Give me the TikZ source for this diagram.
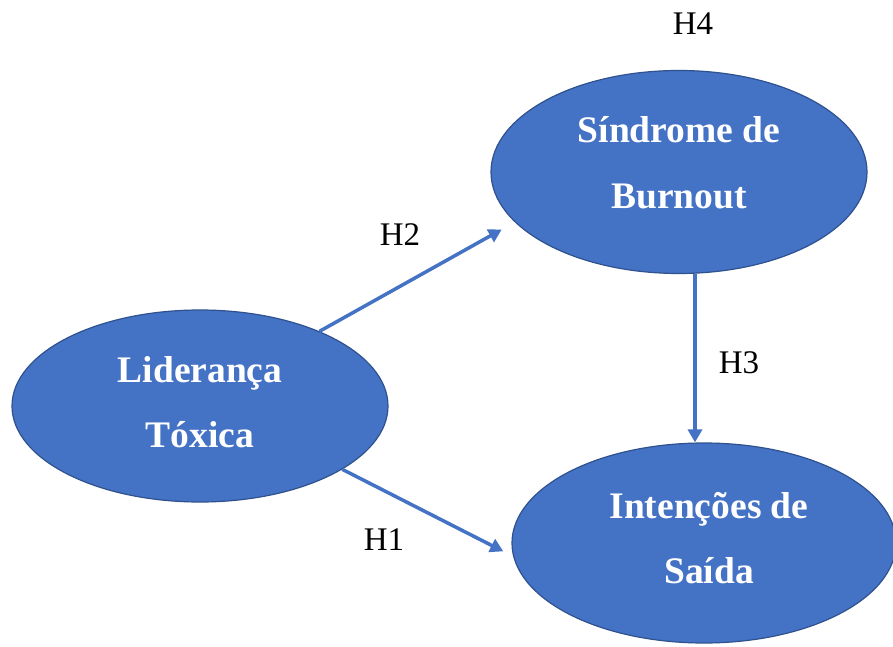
\documentclass[tikz,border=0pt]{standalone}
\usepackage{fontspec}
\setmainfont{Liberation Serif}
\usetikzlibrary{arrows.meta,shapes.geometric}
\definecolor{blobfill}{HTML}{4472C4}
\definecolor{blobedge}{HTML}{2F528F}
\begin{document}
\begin{tikzpicture}[x=1bp,y=-1bp,
  blob/.style={ellipse,fill=blobfill,draw=blobedge,line width=1.2bp,inner sep=0pt},
  blobtext/.style={text=white,align=center,inner sep=0pt,
    font=\bfseries\fontsize{37.5bp}{65bp}\selectfont},
  hyp/.style={inner sep=0pt,font=\fontsize{33bp}{36bp}\selectfont},
  arr/.style={draw=blobfill,line width=3.5bp,-{Triangle[length=13bp,width=14bp]}}]
  \fill[white] (0,0) rectangle (893,647);
  \useasboundingbox (0,0) rectangle (893,647);

  % the three constructs
  \node[blob,minimum width=376bp,minimum height=203bp] (bur) at (679,172) {};
  \node[blob,minimum width=376bp,minimum height=192bp] (lid) at (200,406) {};
  \node[blob,minimum width=384bp,minimum height=200bp] (int) at (704,543) {};

  % fixed line heights keep the two lines evenly placed
  \node[blobtext] (burtxt) at (679,162.5)
    {\rule{0pt}{34bp}Síndrome de\\Burnout\rule[-8bp]{0pt}{8bp}};
  \node[blobtext] (lidtxt) at (200,401.5)
    {\rule{0pt}{34bp}Liderança\\Tóxica\rule[-8bp]{0pt}{8bp}};
  \node[blobtext] (inttxt) at (709,537.5)
    {\rule{0pt}{34bp}Intenções de\\Saída\rule[-8bp]{0pt}{8bp}};

  % hypothesised paths
  \draw[arr,shorten >=15bp] (lid.32) -- (bur.197);
  \draw[arr,shorten >=11bp] (lid.-24) -- (int.184);
  \coordinate (h3top) at ([xshift=16bp]bur.south);
  \draw[arr] (h3top) -- (h3top |- int.north);

  % hypothesis labels
  \node[hyp] (h1) at (384,540) {H1};
  \node[hyp] (h2) at (400,235) {H2};
  \node[hyp] (h3) at (739,363) {H3};
  \node[hyp] (h4) at (693,24) {H4};
\end{tikzpicture}
\end{document}
